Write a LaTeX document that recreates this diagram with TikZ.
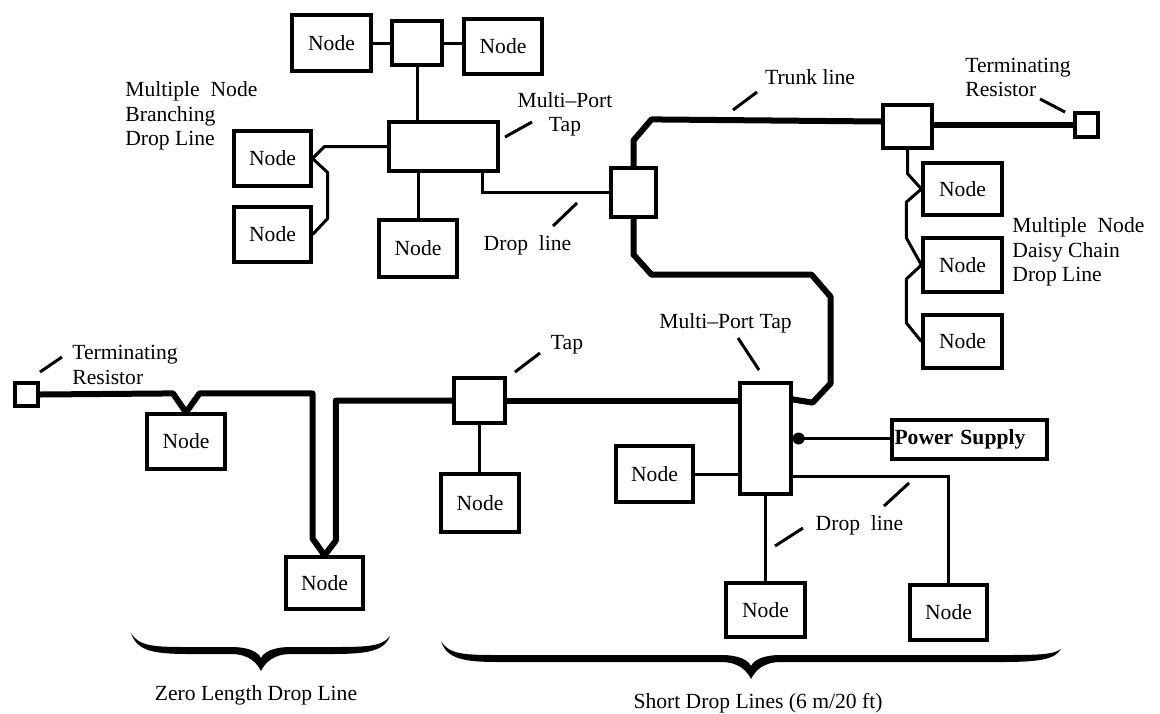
\documentclass[tikz,border=0pt]{standalone}
\usepackage{fontspec}
\setmainfont{Liberation Serif}
\usetikzlibrary{calc}
\newcommand\mkbox[7][]{\node[box,#1,minimum width={(#5-#3)*0.5pt},minimum height={(#6-#4)*0.5pt}] (#2) at ({(#3+#5)/2},{(#4+#6)/2}) {#7};}
\newcommand\ubrace[7]{% xL yL xR yR xm yM yT
\fill (#1,#2) .. controls ({#1+6},{#6+2}) and ({#1+25},{#6+4}) .. ({#1+60},{#6+4}) -- ({#5-30},{#6+4}) .. controls ({#5-12},{#6+4}) and ({#5-4},{#7-8}) .. (#5,#7) .. controls ({#5+4},{#7-8}) and ({#5+12},{#6+4}) .. ({#5+30},{#6+4}) -- ({#3-60},{#6+4}) .. controls ({#3-25},{#6+4}) and ({#3-6},{#6+2}) .. (#3,#4) .. controls ({#3-8},{#6-3}) and ({#3-25},{#6-3}) .. ({#3-60},{#6-3}) -- ({#5+30},{#6-3}) .. controls ({#5+12},{#6-3}) and ({#5+3},{#6+2}) .. (#5,{#6+8}) .. controls ({#5-3},{#6+2}) and ({#5-12},{#6-3}) .. ({#5-30},{#6-3}) -- ({#1+60},{#6-3}) .. controls ({#1+25},{#6-3}) and ({#1+8},{#6-3}) .. cycle;}
\begin{document}
\begin{tikzpicture}[x=0.5pt,y=-0.5pt,
  font=\fontsize{10.8}{12.3}\selectfont,
  box/.style={draw,line width=1.6pt,inner sep=0pt,rectangle},
  wire/.style={line width=1.5pt},
  trunk/.style={line width=3pt,line join=round},
  lead/.style={line width=1.5pt},
  lbl/.style={inner sep=0pt,align=left}]
\fill[white] (0,0) rectangle (1160,713);
\useasboundingbox (0,0) rectangle (1160,713);

% boxes
\mkbox{nTL}{292}{15}{371}{71}{Node}
\mkbox{tapT}{392}{21}{442}{65}{}
\mkbox{nTR}{464}{19}{542}{74}{Node}
\mkbox{mpt1}{389}{122}{498}{171}{}
\mkbox{nB1}{234}{131}{311}{186}{Node}
\mkbox{nB2}{234}{207}{311}{262}{Node}
\mkbox{nMB}{379}{220}{457}{277}{Node}
\mkbox{tap2}{611}{168}{656}{217}{}
\mkbox{tap3}{883}{105}{932}{148}{}
\mkbox{tr1}{1075}{113}{1098}{137}{}
\mkbox{nD1}{923}{163}{1002}{215}{Node}
\mkbox{nD2}{923}{238}{1002}{292}{Node}
\mkbox{nD3}{923}{315}{1002}{368}{Node}
\mkbox{mpt2}{740}{383}{791}{494}{}
\mkbox[font=\bfseries\fontsize{10.8}{12}\selectfont,text width=75pt,align=left]{ps}{892}{420}{1047}{459}{Power Supply}
\mkbox{nL}{616}{446}{693}{502}{Node}
\mkbox{nBM}{726}{583}{805}{637}{Node}
\mkbox{nBR}{910}{585}{987}{640}{Node}
\mkbox{tr2}{15}{383}{38}{406}{}
\mkbox{nZ1}{147}{414}{225}{469}{Node}
\mkbox{nZ2}{286}{557}{363}{609}{Node}
\mkbox{tap4}{454}{378}{505}{423}{}
\mkbox{nT4}{441}{474}{519}{532}{Node}

% trunk
\draw[trunk] (tap2.north) -- ++(0,-26) -- ++(18,-21) -- ($(tap3.west)+(0,-5)$);
\draw[trunk] (tap3.east |- tr1.west) -- (tr1.west);
\draw[trunk] (tap2.south) -- ++(0,36) -- ++(18,20) -- ++(160,0) -- ++(19,22) -- ++(0,87) -- ++(-18,19) -- ($(mpt2.north east)+(0,18)$);
\draw[trunk] (mpt2.west |- tap4.east) -- (tap4.east);
\draw[trunk] (tap4.west) -- ++(-116.5,0) -- ++(0,140) -- (nZ2.north) -- ++(-12,-17) -- ++(0,-145) -- ++(-113,0) -- (nZ1.north) -- ++(-13,-19) -- (tr2.east);

% drop lines
\draw[wire] (nTL.east) -- (nTL.east -| tapT.west);
\draw[wire] (tapT.east) -- (tapT.east -| nTR.west);
\draw[wire] (tapT.south) -- (tapT.south |- mpt1.north);
\draw[wire] (mpt1.west) -- ++(-63,0) -- (nB1.east) -- ++(15,14) -- ++(0,46) -- (nB2.east);
\draw[wire] (nMB.north) -- (nMB.north |- mpt1.south);
\draw[wire] (tap2.west) -| ($(mpt1.south east)+(-17,0)$);
\draw[wire] (tap3.south) -- ++(0,24) -- (nD1.west) -- ++(-15,13) -- ++(0,36) -- (nD2.west) -- ++(-15,14) -- ++(0,44) -- (nD3.west);
\draw[wire] (nL.east) -- (nL.east -| mpt2.west);
\draw[wire] (mpt2.east) -- (mpt2.east -| ps.west);
\fill ($(mpt2.east)+(6,0)$) circle[radius=3pt];
\draw[wire] ($(mpt2.east)+(0,37.5)$) -| (nBR.north);
\draw[wire] (mpt2.south) -- (nBM.north);
\draw[wire] (tap4.south) -- (tap4.south |- nT4.north);

% leaders
\draw[lead] (505,137) -- (532,122);
\draw[lead] (553,226) -- (577,203);
\draw[lead] (733,110) -- (757,92);
\draw[lead] (1040,99) -- (1065,112);
\draw[lead] (738,338) -- (759,370);
\draw[lead] (515,372) -- (540,353);
\draw[lead] (40,372) -- (62,357);
\draw[lead] (775,546) -- (803,528);
\draw[lead] (884,506) -- (909,483);

% labels
\node[lbl,anchor=west] (lblBranch) at (125,116) {Multiple~~Node\\Branching\\Drop Line};
\node[lbl,align=center] (lblMPT1) at (565,114.5) {Multi\textendash Port\\Tap};
\node[lbl] (lblDrop1) at (527.5,245) {Drop~~line};
\node[lbl] (lblTrunk) at (810,77) {Trunk line};
\node[lbl,anchor=west] (lblTR1) at (965,77.5) {Terminating\\Resistor};
\node[lbl,anchor=west] (lblDaisy) at (1012,252) {Multiple~~Node\\Daisy Chain\\Drop Line};
\node[lbl] (lblMPT2) at (725.5,323) {Multi\textendash Port Tap};
\node[lbl] (lblTap) at (567,345) {Tap};
\node[lbl,anchor=west] (lblTR2) at (72,365) {Terminating\\Resistor};
\node[lbl] (lblDrop2) at (859.5,525) {Drop~~line};
\node[lbl] (lblZero) at (256,695) {Zero Length Drop Line};
\node[lbl] (lblShort) at (758,703) {Short Drop Lines (6 m/20 ft)};

% braces
\ubrace{131}{633}{390}{636}{261}{650}{671}
\ubrace{441}{641}{1061}{649}{751}{658}{679}
\end{tikzpicture}
\end{document}
